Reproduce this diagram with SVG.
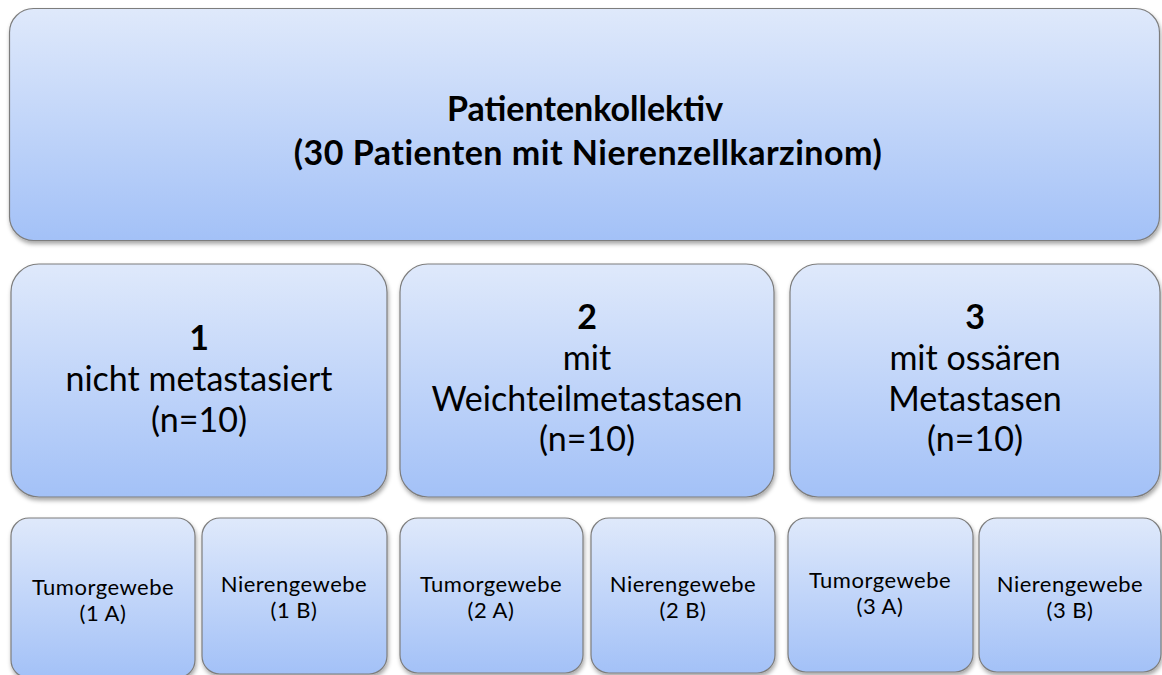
<svg xmlns="http://www.w3.org/2000/svg" width="1162" height="675" viewBox="0 0 1162 675">
<defs>
<linearGradient id="g" x1="0" y1="0" x2="0" y2="1">
<stop offset="0" stop-color="#dfe9fb"/>
<stop offset="1" stop-color="#a3c1f7"/>
</linearGradient>
<filter id="sh" x="-5%" y="-5%" width="110%" height="115%">
<feDropShadow dx="1" dy="3" stdDeviation="2" flood-color="#000" flood-opacity="0.35"/>
</filter>
<style>
.box{fill:url(#g);stroke:#7d7d7d;stroke-width:1.2;filter:url(#sh)}
text{font-family:Lato,"Liberation Sans",sans-serif;fill:#000;text-anchor:middle}
.t{font-size:34px;font-weight:bold}
.t2{font-size:34px;font-weight:bold;letter-spacing:0.5px}
.m{font-size:34px}
.mb{font-size:34px;font-weight:bold}
.s{font-size:22px;letter-spacing:0.5px}
</style>
</defs>
<rect width="1162" height="675" fill="#fff"/>
<g id="connectors"></g>
<g id="top">
<rect class="box" x="9.5" y="8.5" width="1150" height="232" rx="24"/>
<text class="t" x="585" y="121">Patientenkollektiv</text>
<text class="t2" x="588" y="165">(30 Patienten mit Nierenzellkarzinom)</text>
</g>
<g id="g1">
<rect class="box" x="11" y="264" width="376" height="233" rx="28"/>
<text class="mb" x="199" y="350">1</text>
<text class="m" x="199" y="391">nicht metastasiert</text>
<text class="m" x="199" y="432">(n=10)</text>
</g>
<g id="g2">
<rect class="box" x="400" y="264" width="374" height="233" rx="28"/>
<text class="mb" x="587" y="329">2</text>
<text class="m" x="587" y="370">mit</text>
<text class="m" x="587" y="411">Weichteilmetastasen</text>
<text class="m" x="587" y="451">(n=10)</text>
</g>
<g id="g3">
<rect class="box" x="790" y="264" width="370" height="233" rx="28"/>
<text class="mb" x="975" y="329">3</text>
<text class="m" x="975" y="370">mit ossären</text>
<text class="m" x="975" y="411">Metastasen</text>
<text class="m" x="975" y="451">(n=10)</text>
</g>
<g id="n1A">
<rect class="box" x="11" y="518" width="184" height="160" rx="18"/>
<text class="s" x="103" y="595">Tumorgewebe</text>
<text class="s" x="103" y="621">(1 A)</text>
</g>
<g id="n1B">
<rect class="box" x="202" y="518" width="185" height="156" rx="18"/>
<text class="s" x="294" y="592">Nierengewebe</text>
<text class="s" x="294" y="618">(1 B)</text>
</g>
<g id="n2A">
<rect class="box" x="400" y="518" width="183" height="155" rx="18"/>
<text class="s" x="491" y="592">Tumorgewebe</text>
<text class="s" x="491" y="618">(2 A)</text>
</g>
<g id="n2B">
<rect class="box" x="591" y="518" width="184" height="155" rx="18"/>
<text class="s" x="683" y="592">Nierengewebe</text>
<text class="s" x="683" y="618">(2 B)</text>
</g>
<g id="n3A">
<rect class="box" x="788" y="518" width="185" height="154" rx="18"/>
<text class="s" x="880" y="588">Tumorgewebe</text>
<text class="s" x="880" y="614">(3 A)</text>
</g>
<g id="n3B">
<rect class="box" x="979" y="518" width="182" height="154" rx="18"/>
<text class="s" x="1070" y="592">Nierengewebe</text>
<text class="s" x="1070" y="618">(3 B)</text>
</g>
</svg>
